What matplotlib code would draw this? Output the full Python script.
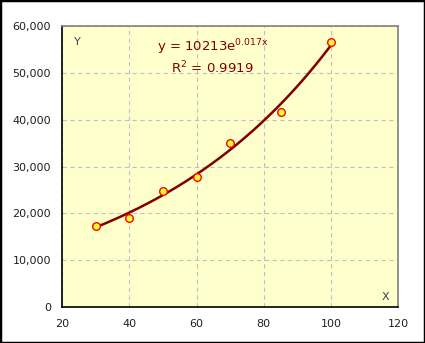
import numpy as np
import matplotlib as mpl
import matplotlib.pyplot as plt
from matplotlib.patches import Rectangle

mpl.use('agg')

# observed points
x_vals = [30, 40, 50, 60, 70, 85, 100]
y_vals = [17300, 19000, 24800, 27800, 35000, 41700, 56500]

# exponential trendline  y = a * exp(b x)
fit_a = 10213
fit_b = 0.017
fit_r2 = 0.9919

x_ticks = [20, 40, 60, 80, 100, 120]
y_ticks = [0, 10000, 20000, 30000, 40000, 50000, 60000]

fig = plt.figure(figsize=(4.25, 3.43), dpi=100)
fig.patch.set_facecolor('white')
fig.patches.append(Rectangle((0, 0), 1, 1, transform=fig.transFigure,
                             fill=False, edgecolor='black', linewidth=2.5))

ax = fig.add_axes([0.146, 0.105, 0.791, 0.819])
ax.set_facecolor('#FFFFCC')

xx = np.linspace(min(x_vals), max(x_vals), 200)
ax.plot(xx, fit_a * np.exp(fit_b * xx), color='#800000', lw=1.8, zorder=3)
ax.scatter(x_vals, y_vals, s=30, facecolor='#FFFF33', edgecolor='red',
           linewidth=1.0, zorder=4)

ax.set_xlim(20, 120)
ax.set_ylim(0, 60000)
ax.set_xticks(x_ticks)
ax.set_yticks(y_ticks)
ax.set_yticklabels(['{:,}'.format(v) for v in y_ticks])
ax.tick_params(length=0, labelsize=8, colors='#202020')
ax.tick_params(axis='x', pad=9)
ax.tick_params(axis='y', pad=8)

ax.grid(True, color='#C0C0C0', linestyle=(0, (4, 3)), linewidth=0.8)
ax.set_axisbelow(True)

for s in ['left', 'bottom']:
    ax.spines[s].set_color('black')
    ax.spines[s].set_linewidth(1.2)
for s in ['top', 'right']:
    ax.spines[s].set_color('#808080')
    ax.spines[s].set_linewidth(1.2)

ax.text(0.045, 0.945, 'Y', transform=ax.transAxes, fontsize=8,
        color='#404040', ha='center', va='center')
ax.text(0.962, 0.035, 'X', transform=ax.transAxes, fontsize=8,
        color='#404040', ha='center', va='center')

ax.text(0.447, 0.925, r'y = {}e$^{{\mathrm{{{}x}}}}$'.format(fit_a, fit_b),
        transform=ax.transAxes, fontsize=9.5, color='#800000',
        ha='center', va='center')
ax.text(0.447, 0.852, 'R$^2$ = {}'.format(fit_r2), transform=ax.transAxes,
        fontsize=9.5, color='#800000', ha='center', va='center')

plt.savefig('out.png', dpi=100)
